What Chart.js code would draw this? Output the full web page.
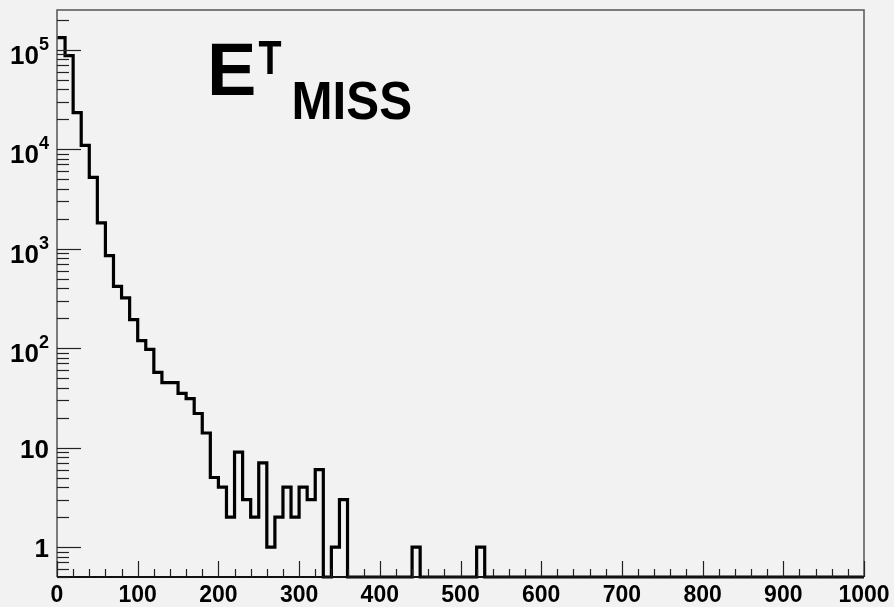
<!DOCTYPE html>
<html><head><meta charset="utf-8">
<script src="https://cdn.jsdelivr.net/npm/chart.js@4/dist/chart.umd.min.js"></script>
<style>html,body{margin:0;padding:0;background:#f2f2f2;}</style>
</head><body>
<canvas id="c" width="894" height="607"></canvas>
<script>
// ---- data ----
const binWidth = 10;
const xRange = [0, 1000];
const yRange = [0.5, 2.5e5];
const counts = [
  132000, 87000, 23300, 10900, 5200, 1810, 850, 417, 319, 193,
  119, 97, 57, 45, 45, 35, 31, 22, 14, 5,
  4, 2, 9, 3, 2, 7, 1, 2, 4, 2,
  4, 3, 6, 0, 1, 3, 0, 0, 0, 0,
  0, 0, 0, 0, 1, 0, 0, 0, 0, 0,
  0, 0, 1, 0, 0, 0, 0, 0, 0, 0,
  0, 0, 0, 0, 0, 0, 0, 0, 0, 0,
  0, 0, 0, 0, 0, 0, 0, 0, 0, 0,
  0, 0, 0, 0, 0, 0, 0, 0, 0, 0,
  0, 0, 0, 0, 0, 0, 0, 0, 0, 0
];
const xTickValues = [0, 100, 200, 300, 400, 500, 600, 700, 800, 900, 1000];
const xTickLabels = ['0', '100', '200', '300', '400', '500', '600', '700', '800', '900', '1000'];
const yTickValues = [1, 10, 100, 1000, 10000, 100000];
const yTickBase = ['1', '10', '10', '10', '10', '10'];
const yTickExp = ['', '', '2', '3', '4', '5'];
const titleMain = 'E', titleSup = 'T', titleSub = 'MISS';

// ---- step points: value of bin i held over [edge_i, edge_i+1] ----
const points = counts.map((c, i) => ({ x: xRange[0] + i * binWidth, y: Math.max(c, yRange[0]) }));
points.push({ x: xRange[1], y: Math.max(counts[counts.length - 1], yRange[0]) });

const FONT = '"Liberation Sans", Arial, Helvetica, sans-serif';

const rootStyle = {
  id: 'rootStyle',
  beforeDraw(chart) {
    const ctx = chart.ctx;
    ctx.save();
    ctx.fillStyle = '#f2f2f2';
    ctx.fillRect(0, 0, chart.width, chart.height);
    ctx.restore();
  },
  afterDraw(chart) {
    const ctx = chart.ctx, a = chart.chartArea;
    const xs = chart.scales.x, ys = chart.scales.y;
    ctx.save();
    // frame
    ctx.strokeStyle = '#555';
    ctx.lineWidth = 1.5;
    ctx.beginPath();
    ctx.moveTo(a.left, a.bottom); ctx.lineTo(a.left, a.top); ctx.lineTo(a.right, a.top); ctx.lineTo(a.right, a.bottom);
    ctx.stroke();
    ctx.strokeStyle = '#111';
    ctx.lineWidth = 2;
    ctx.beginPath();
    ctx.moveTo(a.left, a.bottom); ctx.lineTo(a.right, a.bottom);
    ctx.stroke();
    // y ticks (inside)
    ctx.lineWidth = 1.2;
    ctx.strokeStyle = '#222';
    for (let d = -1; d <= 6; d++) {
      for (let m = 1; m <= 9; m++) {
        const v = m * Math.pow(10, d);
        if (v < yRange[0] || v > yRange[1]) continue;
        const y = Math.round(ys.getPixelForValue(v)) + 0.5;
        const len = m === 1 ? 24 : 12;
        ctx.beginPath(); ctx.moveTo(a.left, y); ctx.lineTo(a.left + len, y); ctx.stroke();
      }
    }
    // x ticks (inside)
    for (let v = xRange[0]; v <= xRange[1]; v += 20) {
      const x = Math.round(xs.getPixelForValue(v)) + 0.5;
      const len = v % 100 === 0 ? 16 : 8;
      ctx.beginPath(); ctx.moveTo(x, a.bottom); ctx.lineTo(x, a.bottom - len); ctx.stroke();
    }
    // y tick labels with superscript exponents
    ctx.fillStyle = '#000';
    ctx.textAlign = 'right';
    ctx.textBaseline = 'alphabetic';
    const rightX = a.left - 8;
    yTickValues.forEach((v, i) => {
      const y = ys.getPixelForValue(v);
      if (yTickExp[i]) {
        ctx.font = 'bold 18px ' + FONT;
        ctx.fillText(yTickExp[i], rightX, y);
        const w = ctx.measureText(yTickExp[i]).width;
        ctx.font = 'bold 26px ' + FONT;
        ctx.fillText(yTickBase[i], rightX - w, y + 14);
      } else {
        ctx.font = 'bold 26px ' + FONT;
        ctx.fillText(yTickBase[i], rightX, y + 10);
      }
    });
    // title  E^T_MISS
    ctx.textAlign = 'left';
    ctx.font = 'bold 74px ' + FONT;
    ctx.fillText(titleMain, 207, 95);
    ctx.font = 'bold 49px ' + FONT;
    ctx.save(); ctx.translate(258.5, 73.5); ctx.scale(0.77, 1); ctx.fillText(titleSup, 0, 0); ctx.restore();
    ctx.font = 'bold 53px ' + FONT;
    ctx.save(); ctx.translate(291.5, 118.5); ctx.scale(0.93, 1); ctx.fillText(titleSub, 0, 0); ctx.restore();
    ctx.restore();
  }
};

new Chart(document.getElementById('c'), {
  type: 'line',
  data: {
    datasets: [{
      data: points,
      stepped: 'before',
      borderColor: '#000',
      borderWidth: 3.2,
      pointRadius: 0,
      fill: false,
      clip: false,
      tension: 0
    }]
  },
  options: {
    responsive: false,
    animation: false,
    devicePixelRatio: 1,
    layout: { padding: { top: 10, right: 30, left: 0, bottom: 0 } },
    plugins: { legend: { display: false }, tooltip: { enabled: false }, title: { display: false } },
    scales: {
      x: {
        type: 'linear', min: xRange[0], max: xRange[1],
        afterBuildTicks: s => { s.ticks = xTickValues.map(v => ({ value: v })); },
        afterFit: s => { s.height = 30; s.paddingLeft = 0; s.paddingRight = 0; },
        grid: { display: false, drawTicks: false },
        border: { display: false },
        ticks: {
          autoSkip: false, maxRotation: 0, minRotation: 0, padding: 5, color: '#000',
          font: { family: FONT, size: 23, weight: 'bold' },
          callback: v => xTickLabels[xTickValues.indexOf(v)]
        }
      },
      y: {
        type: 'logarithmic', min: yRange[0], max: yRange[1],
        afterBuildTicks: s => { s.ticks = yTickValues.map(v => ({ value: v })); },
        afterFit: s => { s.width = 57; s.paddingTop = 0; s.paddingBottom = 0; },
        grid: { display: false, drawTicks: false },
        border: { display: false },
        ticks: { display: false }
      }
    }
  },
  plugins: [rootStyle]
});
</script>
</body></html>
